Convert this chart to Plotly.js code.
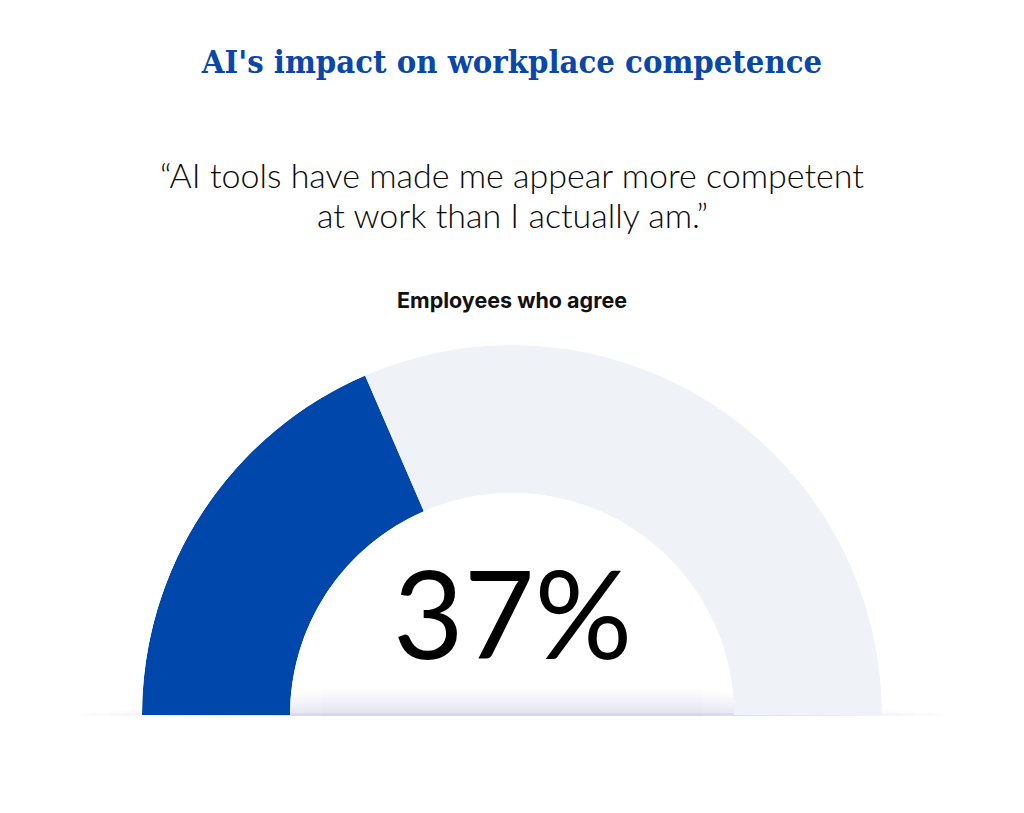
<!DOCTYPE html>
<html>
<head>
<meta charset="utf-8">
<script src="https://cdn.plot.ly/plotly-3.0.1.min.js"></script>
<style>
html,body{margin:0;padding:0;background:#fff;}
#chart{width:1024px;height:813px;}
</style>
</head>
<body>
<div id="chart"></div>
<script>
// ---- data ----
const chartTitle = "AI's impact on workplace competence";
const quoteLines = ["\u201cAI tools have made me appear more competent", "at work than I actually am.\u201d"];
const groupLabel = "Employees who agree";
const categories = ["Agree", "Other"];
const shares = [37, 63];            // percent
const sliceColors = ["#0047AB", "#EFF3F8"];

// ---- convert percents to half-circle angles (180 deg = 100%) ----
const DEG_PER_PCT = 180 / 100;
const thetas = [], widths = [];
let start = 180;
shares.forEach(v => {
  const w = v * DEG_PER_PCT;
  widths.push(w);
  thetas.push(start - w / 2);
  start -= w;
});

const W = 1024, H = 813;
const py = p => 1 - p / H;

const trace = {
  type: 'barpolar',
  r: shares.map(() => 1),
  theta: thetas,
  width: widths,
  text: categories,
  marker: { color: sliceColors, line: { width: 0 } },
  hoverinfo: 'text',
  showlegend: false
};

// soft gradient shadow beneath the gauge base (many faint layers)
const shapes = [];
const N = 14;
for (let i = 0; i < N; i++) {
  const f = i / (N - 1);
  const halfW = 420 - f * 230;
  const h = 3 + f * 24;
  shapes.push({
    type: 'rect', xref: 'paper', yref: 'paper', layer: 'below',
    x0: (512 - halfW) / W, x1: (512 + halfW) / W,
    y0: py(716), y1: py(716 - h),
    line: { width: 0 }, fillcolor: '#6c68a6', opacity: 0.014
  });
}
for (let i = 0; i < 6; i++) {
  const halfW = 430 - i * 40;
  shapes.push({
    type: 'rect', xref: 'paper', yref: 'paper', layer: 'below',
    x0: (512 - halfW) / W, x1: (512 + halfW) / W,
    y0: py(716), y1: py(713),
    line: { width: 0 }, fillcolor: '#6c68a6', opacity: 0.012
  });
}

const layout = {
  width: W, height: H,
  margin: { l: 0, r: 0, t: 0, b: 0 },
  paper_bgcolor: '#ffffff',
  plot_bgcolor: '#ffffff',
  showlegend: false,
  title: {
    text: chartTitle,
    font: { family: 'DejaVu Serif Condensed', size: 32.5, color: '#0A47A9', weight: 'bold' },
    x: 0.5, xanchor: 'center', xref: 'paper',
    y: py(62), yanchor: 'middle', yref: 'paper'
  },
  polar: {
    domain: { x: [142 / W, 882 / W], y: [py(715), py(345)] },
    sector: [0, 180],
    hole: 0.6,
    bgcolor: 'rgba(0,0,0,0)',
    bargap: 0,
    radialaxis: { visible: false, range: [0, 1], showgrid: false, showline: false, ticks: '' },
    angularaxis: { visible: false, showgrid: false, showline: false, ticks: '', direction: 'counterclockwise', rotation: 0 }
  },
  shapes: shapes,
  annotations: [
    { text: quoteLines[0], xref: 'paper', yref: 'paper', x: 0.5, y: py(175), xanchor: 'center', yanchor: 'middle', showarrow: false,
      font: { family: 'Lato', size: 34, color: '#0a0a0a', weight: 300 } },
    { text: quoteLines[1], xref: 'paper', yref: 'paper', x: 0.5, y: py(215), xanchor: 'center', yanchor: 'middle', showarrow: false,
      font: { family: 'Lato', size: 34, color: '#0a0a0a', weight: 300 } },
    { text: '<b>' + groupLabel + '</b>', xref: 'paper', yref: 'paper', x: 0.5, y: py(300), xanchor: 'center', yanchor: 'middle', showarrow: false,
      font: { family: 'Inter', size: 21.5, color: '#111111' } },
    { text: shares[0] + '%', xref: 'paper', yref: 'paper', x: 0.5, y: py(612), xanchor: 'center', yanchor: 'middle', showarrow: false,
      font: { family: 'Lato', size: 122, color: '#000000' } }
  ]
};

Plotly.newPlot('chart', [trace], layout, { displayModeBar: false, staticPlot: true });
</script>
</body>
</html>
